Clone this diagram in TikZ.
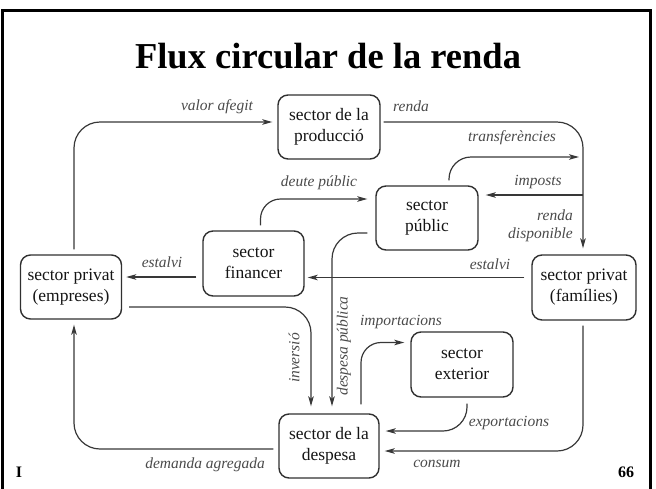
\documentclass[tikz,border=0pt]{standalone}
\usepackage{fontspec}
\setmainfont{Liberation Serif}
\usetikzlibrary{calc,arrows.meta}
\definecolor{linec}{HTML}{383838}
\definecolor{boxc}{HTML}{303030}
\definecolor{labc}{HTML}{4A4A4A}
\definecolor{txtc}{HTML}{151515}
\begin{document}
\begin{tikzpicture}[x=1pt,y=-1pt,
 sbox/.style={draw=boxc, line width=1.4pt, rounded corners=10pt, align=center, inner sep=0pt, text=txtc, font=\fontsize{17.5}{21}\selectfont},
 flow/.style={draw=linec, line width=1.2pt, rounded corners=26pt, -{Stealth[length=10pt,width=5.5pt,inset=2.5pt]}, shorten <=5pt, shorten >=5pt},
 lab/.style={font=\itshape\fontsize{15.5}{18}\selectfont, text=labc, inner sep=0pt}]
\useasboundingbox (0,0) rectangle (656,488);
\draw[line width=3pt] (2,490) -- (2,10) -- (650,10) -- (650,490);
\node[font=\bfseries\fontsize{36.5}{40}\selectfont, text=black] (title) at (328,56) {Flux circular de la renda};
\node[font=\bfseries\fontsize{16}{18}\selectfont] (pl) at (19,472) {I};
\node[font=\bfseries\fontsize{16}{18}\selectfont] (pr) at (626,472) {66};

\node[sbox, minimum width=102pt, minimum height=64pt] (prod) at (329,127) {sector de la\\producció};
\node[sbox, minimum width=102pt, minimum height=64pt] (pub) at (427,218) {sector\\públic};
\node[sbox, minimum width=101pt, minimum height=65pt] (fin) at (253.5,263.5) {sector\\financer};
\node[sbox, minimum width=101pt, minimum height=64pt] (emp) at (71,287) {sector privat\\(empreses)};
\node[sbox, minimum width=104pt, minimum height=65pt] (fam) at (584,287.5) {sector privat\\(famílies)};
\node[sbox, minimum width=102pt, minimum height=65pt] (ext) at (462,364.5) {sector\\exterior};
\node[sbox, minimum width=100pt, minimum height=64pt] (desp) at (329,446) {sector de la\\despesa};

% valor afegit
\draw[flow] ($(emp.north)+(3,0)$) |- ($(prod.west)+(0,-5)$);
% renda
\draw[flow, shorten <=3pt, shorten >=6pt] ($(prod.east)+(0,-5)$) -| ($(fam.north)+(-1,0)$);
% imposts
\coordinate (ij) at (583,195);
\draw[flow, shorten <=0pt, shorten >=7pt] (ij) -- (ij -| pub.east);
% transferencies
\coordinate (tj) at (579,157);
\draw[flow, rounded corners=22pt, shorten >=0pt] ($(pub.north)+(22,0)$) |- (tj);
% deute public
\draw[flow, rounded corners=20pt, shorten >=8pt] ($(fin.north)+(7,0)$) |- ($(pub.west)+(0,-19)$);
% despesa publica
\draw[flow, shorten <=8pt, shorten >=7pt] ($(pub.west)+(0,15)$) -| ($(desp.north)+(3,0)$);
% inversio
\draw[flow, shorten <=7pt, shorten >=7pt] ($(emp.east)+(0,20)$) -| ($(desp.north)+(-18,0)$);
% importacions
\draw[flow, rounded corners=20pt, shorten <=9pt, shorten >=6pt] ($(desp.north)+(32,0)$) |- ($(ext.west)+(0,-22)$);
% exportacions
\draw[flow, rounded corners=24pt, shorten <=6pt, shorten >=6pt] ($(ext.south)+(5,0)$) |- ($(desp.east)+(0,-15)$);
% consum
\draw[flow] ($(fam.south)+(-1,0)$) |- ($(desp.east)+(0,5)$);
% demanda agregada
\draw[flow] ($(desp.west)+(0,3)$) -| ($(emp.south)+(3,0)$);
% estalvi (right)
\coordinate (er) at ($(fam.west)+(0,-10)$);
\draw[flow, shorten <=7pt, shorten >=3pt] (er) -- (er -| fin.east);
% estalvi (left)
\coordinate (el) at ($(fin.west)+(0,13.5)$);
\draw[flow, shorten <=6pt, shorten >=4pt] (el) -- (el -| emp.east);

% labels
\node[lab] (l1) at (217,107) {valor afegit};
\node[lab] (l2) at (411,106) {renda};
\node[lab] (l3) at (512,138) {transferències};
\node[lab] (l4) at (538,182) {imposts};
\node[lab, anchor=east, align=right] (l5) at (573,226) {renda\\disponible};
\node[lab] (l6) at (319,183) {deute públic};
\node[lab] (l7) at (162,262) {estalvi};
\node[lab] (l8) at (490,264) {estalvi};
\node[lab, rotate=90] (l9) at (344,346) {despesa pública};
\node[lab, rotate=90] (l10) at (294,358) {inversió};
\node[lab] (l11) at (401,322) {importacions};
\node[lab] (l12) at (509,423) {exportacions};
\node[lab] (l13) at (437,464) {consum};
\node[lab, anchor=east] (l14) at (265,465) {demanda agregada};
\end{tikzpicture}
\end{document}
